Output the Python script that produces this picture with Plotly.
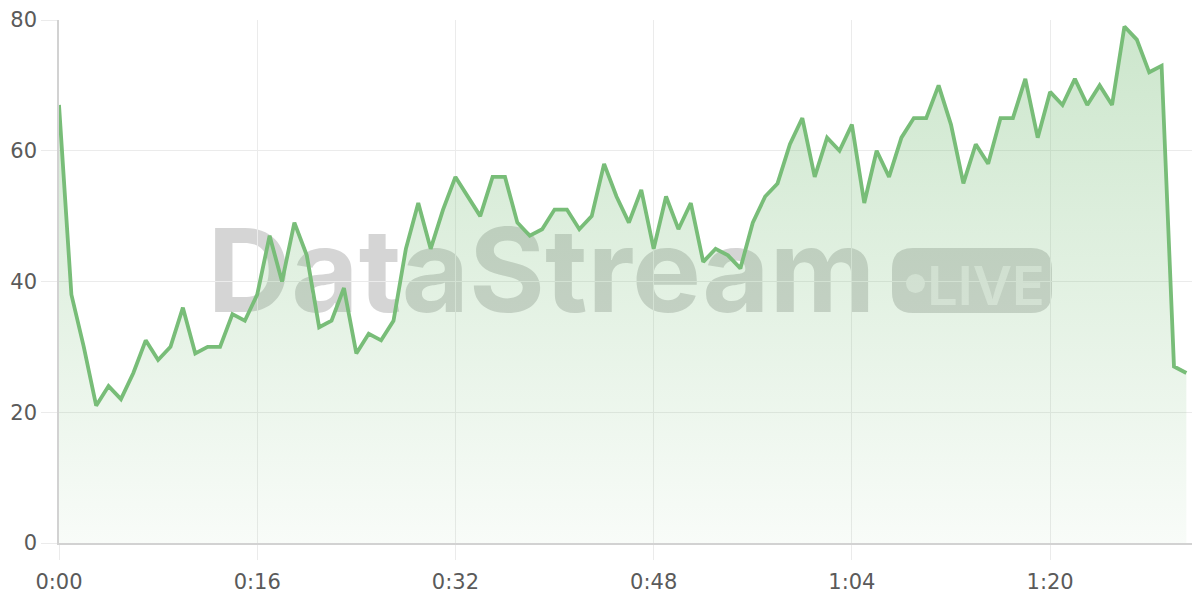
import plotly.graph_objects as go

# ---- data ----
seconds = list(range(92))
values = [67, 38, 30, 21, 24, 22, 26, 31, 28, 30,
          36, 29, 30, 30, 35, 34, 38, 47, 40, 49,
          44, 33, 34, 39, 29, 32, 31, 34, 45, 52,
          45, 51, 56, 53, 50, 56, 56, 49, 47, 48,
          51, 51, 48, 50, 58, 53, 49, 54, 45, 53,
          48, 52, 43, 45, 44, 42, 49, 53, 55, 61,
          65, 56, 62, 60, 64, 52, 60, 56, 62, 65,
          65, 70, 64, 55, 61, 58, 65, 65, 71, 62,
          69, 67, 71, 67, 70, 67, 79, 77, 72, 73,
          27, 26]
x_tickvals = [0, 16, 32, 48, 64, 80]
x_ticktext = ["0:00", "0:16", "0:32", "0:48", "1:04", "1:20"]
y_tickvals = [0, 20, 40, 60, 80]

LINE = "rgb(120,189,120)"
GRID = "#ebebeb"
AXIS = "#d2d2d2"
TICKFONT = "'DejaVu Sans', sans-serif"
WMFONT = "Inter, 'Noto Sans', sans-serif"

# page body has an 8px default margin; size the figure so the plot area
# lands at screen x 59..1200, y 20..543
OFF = 8
W, H = 1192, 592
ML, MR, MT, MB = 51, 0, 12, 57
PW, PH = W - ML - MR, H - MT - MB


def px2paper(sx, sy):
    fx, fy = sx - OFF, sy - OFF
    return (fx - ML) / PW, (H - MB - fy) / PH


def rounded_rect(x0, y0, x1, y1, r):
    pts = []
    def P(cmd, *xy):
        s = cmd
        for i in range(0, len(xy), 2):
            a, b = px2paper(xy[i], xy[i + 1])
            s += f" {a:.5f},{b:.5f}"
        pts.append(s)
    P("M", x0 + r, y0)
    P("L", x1 - r, y0)
    P("Q", x1, y0, x1, y0 + r)
    P("L", x1, y1 - r)
    P("Q", x1, y1, x1 - r, y1)
    P("L", x0 + r, y1)
    P("Q", x0, y1, x0, y1 - r)
    P("L", x0, y0 + r)
    P("Q", x0, y0, x0 + r, y0)
    return " ".join(pts) + " Z"


def box(sx0, sy0, sx1, sy1):
    a0, b0 = px2paper(sx0, sy1)
    a1, b1 = px2paper(sx1, sy0)
    return dict(x0=a0, x1=a1, y0=b0, y1=b1)


fig = go.Figure()
fig.add_trace(go.Scatter(
    x=seconds, y=values, mode="lines",
    line=dict(color=LINE, width=3.8),
    fill="tozeroy",
    fillgradient=dict(type="vertical",
                      colorscale=[[0, "rgba(120,189,120,0.05)"],
                                  [1, "rgba(120,189,120,0.38)"]],
                      start=0, stop=80),
    hoverinfo="skip",
))

WM = "rgba(115,115,115,0.3)"
BADGE_TXT = "rgba(255,255,255,0.5)"
shapes = [
    dict(type="rect", xref="paper", yref="paper", **box(205, 218, 878, 314),
         line=dict(width=0), fillcolor="rgba(0,0,0,0)", layer="between",
         label=dict(text="<b>DataStream</b>", textposition="middle center",
                    font=dict(size=116, color=WM, family=WMFONT))),
    dict(type="path", xref="paper", yref="paper",
         path=rounded_rect(892, 248, 1052, 313, 21),
         line=dict(width=0), fillcolor=WM, layer="between"),
    dict(type="circle", xref="paper", yref="paper", **box(906, 274, 925, 293),
         line=dict(width=0), fillcolor=BADGE_TXT, layer="between"),
    dict(type="rect", xref="paper", yref="paper", **box(932, 255, 1040, 311),
         line=dict(width=0), fillcolor="rgba(0,0,0,0)", layer="between",
         label=dict(text="LIVE", textposition="middle center",
                    font=dict(size=54, color=BADGE_TXT, family=WMFONT, weight=600))),
]

fig.update_layout(
    width=W, height=H,
    margin=dict(l=ML, r=MR, t=MT, b=MB),
    paper_bgcolor="white", plot_bgcolor="white",
    showlegend=False,
    shapes=shapes,
    font=dict(family=TICKFONT, size=21, color="#5a5a5a"),
    xaxis=dict(range=[0, 92.1], tickvals=x_tickvals, ticktext=x_ticktext,
               showgrid=True, gridcolor=GRID, gridwidth=1,
               ticks="outside", ticklen=15, tickcolor=GRID,
               ticklabelstandoff=4,
               showline=True, linecolor=AXIS, linewidth=1.5,
               zeroline=False, fixedrange=True, automargin=False),
    yaxis=dict(range=[0, 80], tickvals=y_tickvals,
               showgrid=True, gridcolor=GRID, gridwidth=1,
               ticks="outside", ticklen=16, tickcolor=GRID,
               showline=True, linecolor=AXIS, linewidth=1.5,
               zeroline=False, fixedrange=True, automargin=False),
)

fig.write_html("out.html", config={"displayModeBar": False})
